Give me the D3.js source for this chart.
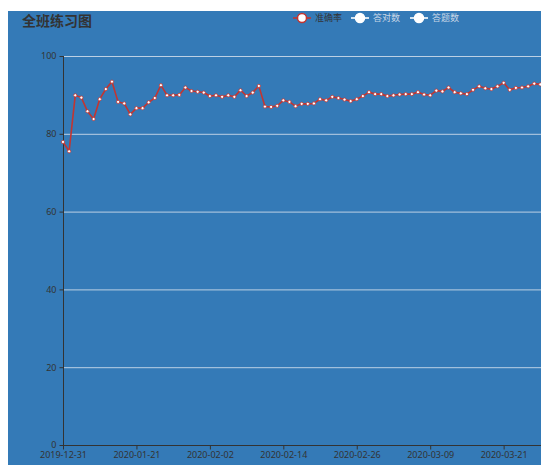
<!DOCTYPE html>
<html>
<head>
<meta charset="utf-8">
<script src="https://d3js.org/d3.v7.min.js"></script>
<style>
	body { margin: 0; background: #fff; }
	text { font-family: "Noto Sans", "Noto Sans CJK SC", sans-serif; }
</style>
</head>
<body>
<script>

// categories: first 12 practice days, then daily from 2020-01-21
const earlyDates = [
	"2019-12-31", "2020-01-02", "2020-01-03", "2020-01-06", "2020-01-07", "2020-01-08",
	"2020-01-09", "2020-01-10", "2020-01-13", "2020-01-14", "2020-01-15", "2020-01-16"
	];
const fmt = d3.timeFormat("%Y-%m-%d");
const dailyDates = d3.timeDay.range(new Date(2020, 0, 21), new Date(2020, 2, 28)).map(fmt);
const dates = earlyDates.concat(dailyDates);

// 准确率 (%)
const rates = [
	77.9, 75.5, 89.9, 89.3, 85.8, 83.8, 88.9, 91.5, 93.4, 88.2,
	87.8, 85.0, 86.6, 86.6, 88.1, 89.2, 92.5, 89.9, 89.9, 90.0,
	91.9, 91.0, 90.8, 90.6, 89.7, 89.9, 89.5, 89.9, 89.5, 91.2,
	89.7, 90.6, 92.3, 87.0, 86.9, 87.2, 88.6, 88.2, 87.1, 87.7,
	87.7, 87.8, 88.9, 88.6, 89.5, 89.2, 88.8, 88.4, 88.9, 89.7,
	90.7, 90.2, 90.2, 89.7, 89.9, 90.1, 90.2, 90.2, 90.7, 90.1,
	89.9, 91.1, 90.9, 91.9, 90.7, 90.4, 90.2, 91.3, 92.2, 91.7,
	91.5, 92.2, 93.1, 91.3, 91.8, 91.9, 92.2, 92.9, 92.7
	];

const legendNames = ["准确率", "答对数", "答题数"];
const yTicks = [0, 20, 40, 60, 80, 100];

const W = 541, H = 465;
const plotLeft = 63, plotTop = 56, plotBottom = 445, step = 6.12;
const red = "#c23531";

var svg = d3.select("body").append("svg")
	.attr("width", W)
	.attr("height", H);

svg.append("rect")
	.attr("x", 8).attr("y", 11)
	.attr("width", W - 8).attr("height", H - 11)
	.attr("fill", "#347ab7");

var x = d3.scalePoint().domain(dates).range([plotLeft, plotLeft + (dates.length - 1) * step]);
var y = d3.scaleLinear().domain([0, 100]).range([plotBottom, plotTop]);

// grid
svg.append("g")
	.selectAll("line")
	.data(yTicks.filter(d => d > 0))
	.join("line")
	.attr("x1", plotLeft).attr("x2", W)
	.attr("y1", d => y(d) + 0.5).attr("y2", d => y(d) + 0.5)
	.attr("stroke", "#bcd0e4");

// y axis
var yAxis = d3.axisLeft(y).tickValues(yTicks).tickSize(4).tickPadding(3).tickSizeOuter(0);
svg.append("g")
	.attr("transform", "translate(" + (plotLeft + 0.5) + ",0)")
	.call(yAxis)
	.call(g => g.select(".domain").attr("stroke", "#333").attr("d", "M0," + plotTop + "V" + plotBottom))
	.call(g => g.selectAll(".tick line").attr("stroke", "#333"))
	.call(g => g.selectAll(".tick text").attr("fill", "#333").style("font-size", "9px"));

// x axis
var xAxis = d3.axisBottom(x)
	.tickValues(dates.filter((d, i) => i % 12 === 0))
	.tickSize(4).tickPadding(2).tickSizeOuter(0);
svg.append("g")
	.attr("transform", "translate(0," + (plotBottom + 0.5) + ")")
	.call(xAxis)
	.call(g => g.select(".domain").attr("stroke", "#333").attr("d", "M" + plotLeft + ",0H" + W))
	.call(g => g.selectAll(".tick line").attr("stroke", "#333"))
	.call(g => g.selectAll(".tick text").attr("fill", "#333").style("font-size", "9px"));

// series
var line = d3.line()
	.x((d, i) => x(dates[i]))
	.y(d => y(d));

svg.append("path")
	.datum(rates)
	.attr("d", line)
	.attr("fill", "none")
	.attr("stroke", red)
	.attr("stroke-width", 1.6);

svg.append("g")
	.selectAll("circle")
	.data(rates)
	.join("circle")
	.attr("cx", (d, i) => x(dates[i]))
	.attr("cy", d => y(d))
	.attr("r", 1.6)
	.attr("fill", "#fff")
	.attr("stroke", red)
	.attr("stroke-width", 0.8);

// title
svg.append("text")
	.attr("x", 22).attr("y", 26)
	.attr("fill", "#333")
	.style("font-size", "14px")
	.style("font-weight", "bold")
	.style("font-family", "'Noto Sans CJK SC', sans-serif")
	.text("全班练习图");

// legend
const legendX = [302, 360, 419];
var legend = svg.append("g")
	.selectAll("g")
	.data(legendNames)
	.join("g")
	.attr("transform", (d, i) => "translate(" + legendX[i] + ",18)");

legend.append("line")
	.attr("x1", -9).attr("x2", 9)
	.attr("stroke", (d, i) => i === 0 ? red : "#fff")
	.attr("stroke-width", 1.6);

legend.append("circle")
	.attr("r", 4.5)
	.attr("fill", "#fff")
	.attr("stroke", (d, i) => i === 0 ? red : "#fff")
	.attr("stroke-width", 1.5);

legend.append("text")
	.attr("x", 13)
	.attr("dy", "0.35em")
	.attr("fill", (d, i) => i === 0 ? "#333" : "#c8d6e6")
	.style("font-size", "9px")
	.style("font-family", "'Noto Sans CJK SC', sans-serif")
	.text(d => d);

</script>
</body>
</html>
